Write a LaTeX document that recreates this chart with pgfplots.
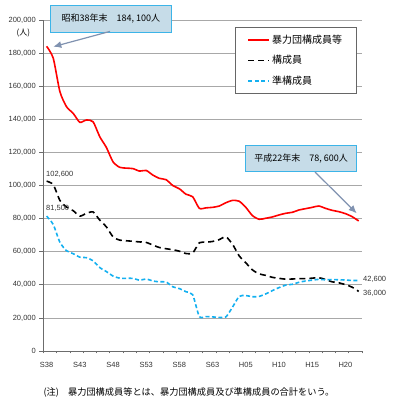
\documentclass[border=0pt]{standalone}
\usepackage{fontspec}
\setmainfont{Liberation Sans}
\newfontfamily\cjk{Noto Sans CJK JP}
\usepackage{pgfplots}
\pgfplotsset{compat=1.18}
\usetikzlibrary{arrows.meta}
\definecolor{skyb}{RGB}{20,176,240}
\definecolor{gridg}{RGB}{168,168,168}
\definecolor{boxfill}{RGB}{198,220,232}
\definecolor{boxdraw}{RGB}{60,180,232}
\definecolor{arrowc}{RGB}{128,146,176}
\begin{document}
\begin{tikzpicture}
\path[use as bounding box] (0pt,0pt) rectangle (395pt,400pt);
\begin{axis}[
  scale only axis, width=318.7pt, height=331pt,
  at={(43.3pt,49pt)}, anchor=south west,
  xmin=1962.5, xmax=2010.5, ymin=0, ymax=200000,
  axis lines=left, axis line style={-, draw=gray!85!black, line width=0.7pt},
  ytick={0,20000,...,200000},
  scaled y ticks=false,
  /pgf/number format/assume math mode=true,
  yticklabel={\pgfmathprintnumber[fixed,1000 sep={,}]{\tick}},
  ymajorgrids, major grid style={draw=gridg, line width=0.7pt},
  ytick style={draw=gray!85!black, line width=0.7pt},
  y tick label style={font=\fontsize{7.5}{9}\selectfont, text=black!80},
  tick align=outside, major tick length=4pt,
  xtick={1963,1968,...,2008},
  xticklabels={S38,S43,S48,S53,S58,S63,H05,H10,H15,H20},
  xtick style={draw=none},
  minor xtick={1962.5,1964.5,...,2010.5},
  minor x tick style={draw=gray!85!black, line width=0.6pt},
  minor tick length=2.5pt,
  x tick label style={font=\fontsize{7.5}{9}\selectfont, text=black!80, yshift=-4pt},
  legend style={at={(0.602,0.978)}, anchor=north west, draw=gray!80!black, line width=0.6pt,
    fill=white, font=\cjk\fontsize{10}{12}\selectfont, row sep=6.5pt,
    inner xsep=12pt, inner ysep=5.5pt, nodes={inner sep=2pt}},
  legend cell align=left,
  legend image code/.code={\draw[#1] (0pt,0pt) -- (21pt,0pt);},
]
\addplot[red, line width=1.6pt, smooth, tension=0.4] coordinates {
(1963,184100)(1964,176900)(1965,156700)(1966,147600)(1967,143600)(1968,138200)
(1969,139600)(1970,138500)(1971,129500)(1972,123000)(1973,114300)(1974,111000)
(1975,110500)(1976,110200)(1977,108700)(1978,109100)(1979,106300)(1980,104300)
(1981,103500)(1982,100000)(1983,98000)(1984,94700)(1985,93200)(1986,86200)
(1987,86500)(1988,86800)(1989,87600)(1990,89600)(1991,91000)(1992,90500)
(1993,86800)(1994,81800)(1995,79600)(1996,80200)(1997,81000)(1998,82200)
(1999,83200)(2000,83800)(2001,85200)(2002,86000)(2003,86800)(2004,87600)
(2005,86200)(2006,85000)(2007,84200)(2008,83000)(2009,81200)(2010,78600)};
\addlegendentry{暴力団構成員等\hspace{8pt}}
\addplot[black, line width=1.6pt, dash pattern=on 6pt off 4pt, smooth, tension=0.4] coordinates {
(1963,102600)(1964,100500)(1965,91000)(1966,87000)(1967,84800)(1968,81500)
(1969,83200)(1970,84000)(1971,79100)(1972,75000)(1973,69000)(1974,67000)
(1975,66600)(1976,66300)(1977,65900)(1978,65600)(1979,64000)(1980,62500)
(1981,61800)(1982,61200)(1983,60300)(1984,58900)(1985,59200)(1986,65400)
(1987,65700)(1988,66200)(1989,67300)(1990,69000)(1991,64500)(1992,57500)
(1993,53300)(1994,49000)(1995,46600)(1996,45700)(1997,44500)(1998,43900)
(1999,43400)(2000,43500)(2001,43700)(2002,43700)(2003,44000)(2004,44300)
(2005,43200)(2006,41800)(2007,41200)(2008,40100)(2009,38600)(2010,36000)};
\addlegendentry{構成員}
\addplot[skyb, line width=1.6pt, dash pattern=on 4pt off 2.5pt, smooth, tension=0.4] coordinates {
(1963,81500)(1964,76400)(1965,65700)(1966,60600)(1967,58800)(1968,56700)
(1969,56400)(1970,54500)(1971,50400)(1972,48000)(1973,45300)(1974,44000)
(1975,43900)(1976,43900)(1977,42800)(1978,43500)(1979,42300)(1980,41800)
(1981,41700)(1982,38800)(1983,37700)(1984,35800)(1985,34000)(1986,20800)
(1987,20800)(1988,20600)(1989,20300)(1990,20600)(1991,26500)(1992,33000)
(1993,33500)(1994,32800)(1995,33000)(1996,34500)(1997,36500)(1998,38300)
(1999,39800)(2000,40300)(2001,41500)(2002,42300)(2003,42800)(2004,43300)
(2005,43000)(2006,43200)(2007,43000)(2008,42900)(2009,42600)(2010,42600)};
\addlegendentry{準構成員}
\end{axis}
% annotations
\node[fill=boxfill, draw=boxdraw, line width=0.8pt, minimum width=121.7pt, minimum height=27.3pt,
  inner sep=0pt, font=\cjk\fontsize{9}{11}\selectfont] at (110.85pt,381.35pt) {昭和38年末　184, 100人};
\node[fill=boxfill, draw=boxdraw, line width=0.8pt, minimum width=111pt, minimum height=26.7pt,
  inner sep=0pt, font=\cjk\fontsize{9}{11}\selectfont] at (301.2pt,241.65pt) {平成22年末　78, 600人};
\draw[arrowc, line width=1.2pt, -{Latex[length=8pt,width=7pt]}] (110pt,368.6pt) -- (53.3pt,353.3pt);
\draw[arrowc, line width=1.2pt, -{Latex[length=8pt,width=7pt]}] (315pt,228pt) -- (356.7pt,186.7pt);
\node[anchor=west, inner sep=0pt, font=\fontsize{7.5}{9}\selectfont, text=black!80] at (46pt,226pt) {102,600};
\node[anchor=west, inner sep=0pt, font=\fontsize{7.5}{9}\selectfont, text=black!80] at (46pt,191.7pt) {81,500};
\node[anchor=west, inner sep=0pt, font=\fontsize{7.5}{9}\selectfont, text=black!80] at (363pt,120.7pt) {42,600};
\node[anchor=west, inner sep=0pt, font=\fontsize{7.5}{9}\selectfont, text=black!80] at (363pt,106.7pt) {36,000};
\node[inner sep=0pt, font=\cjk\fontsize{8}{10}\selectfont] at (23.3pt,367pt) {(人)};
\node[anchor=west, inner sep=0pt, font=\cjk\fontsize{9.2}{11}\selectfont] at (43.3pt,7pt) {(注)　暴力団構成員等とは、暴力団構成員及び準構成員の合計をいう。};
\end{tikzpicture}
\end{document}
